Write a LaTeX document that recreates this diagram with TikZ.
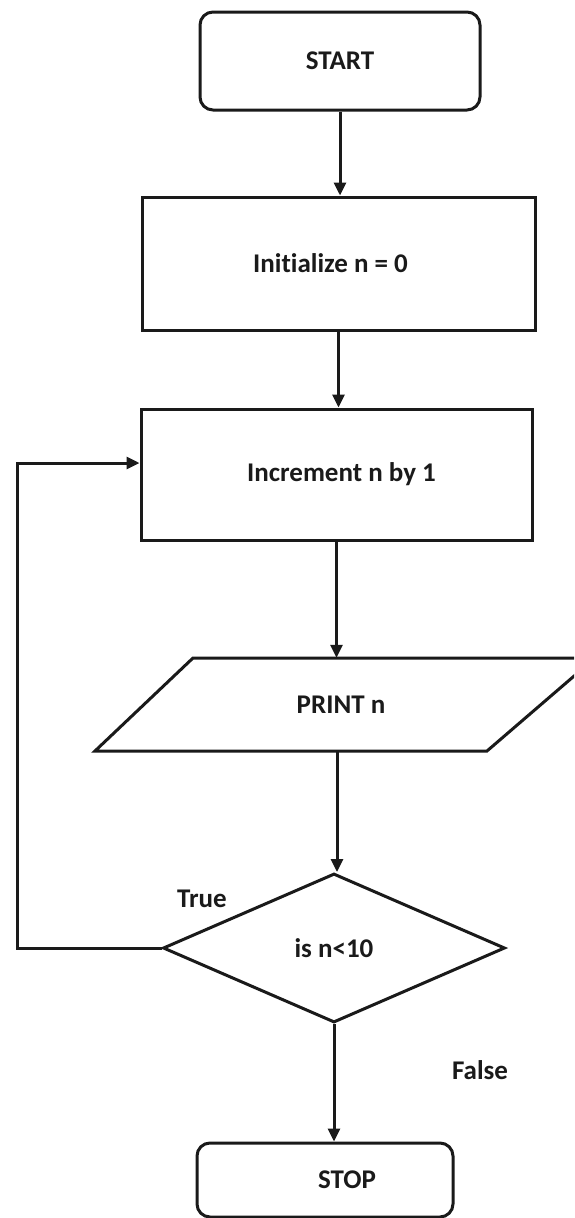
\documentclass[tikz,border=0pt]{standalone}
\usepackage{fontspec}
\setmainfont[Ligatures=NoCommon]{Carlito}
\usetikzlibrary{shapes.geometric,arrows.meta}
\definecolor{ink}{HTML}{1A1A1A}
\begin{document}
\begin{tikzpicture}[x=1pt,y=-1pt,
  every node/.style={font=\bfseries\fontsize{27}{31}\selectfont, text=ink},
  box/.style={draw=ink, line width=3pt, rectangle, inner sep=0pt},
  term/.style={box, rounded corners=13pt},
  conn/.style={draw=ink, line width=3pt, -{Triangle[length=13pt,width=12pt]}},
  lbl/.style={inner sep=0pt}]
\useasboundingbox (0,0) rectangle (574,1218);
\clip (0,0) rectangle (574,1218);
\fill[white] (0,0) rectangle (574,1218);

\node[term, minimum width=280pt, minimum height=98pt] (start) at (340,61) {START};
\node[box, minimum width=393pt, minimum height=133pt] (init) at (338.5,263.5) {\hspace*{-16pt}Initialize n = 0};
\node[box, minimum width=391pt, minimum height=131pt] (inc) at (336.5,474.5) {\hspace*{10pt}Increment n by 1};
\node[lbl, minimum width=300pt, minimum height=93pt] (print) at (337,704.5) {\hspace*{8pt}PRINT n};
\draw[draw=ink, line width=3pt, line join=miter] (95,751) -- (487,751) -- (595,658) -- (193,658) -- cycle;
\node[diamond, draw=ink, line width=3pt, inner sep=0pt, minimum width=342pt, minimum height=149pt] (dec) at (334,948) {is n<10};
\node[term, minimum width=256pt, minimum height=74pt] (stop) at (325,1180) {\hspace*{44pt}STOP};

\coordinate (lp) at (17,946);
\node[lbl] (true) at (202,899) {True};
\node[lbl] (false) at (480,1070) {False};

\draw[conn] (start.south) -- (start.south |- init.north);
\draw[conn] (init.south) -- (init.south |- inc.north);
\draw[conn] (inc.south) -- (inc.south |- print.north);
\draw[conn] (print.south) -- (print.south |- dec.north);
\draw[conn] (dec.south) -- (dec.south |- stop.north);
\draw[conn] (dec.west) -- (dec.west -| lp) |- ([yshift=11.5pt]inc.west);
\end{tikzpicture}
\end{document}
